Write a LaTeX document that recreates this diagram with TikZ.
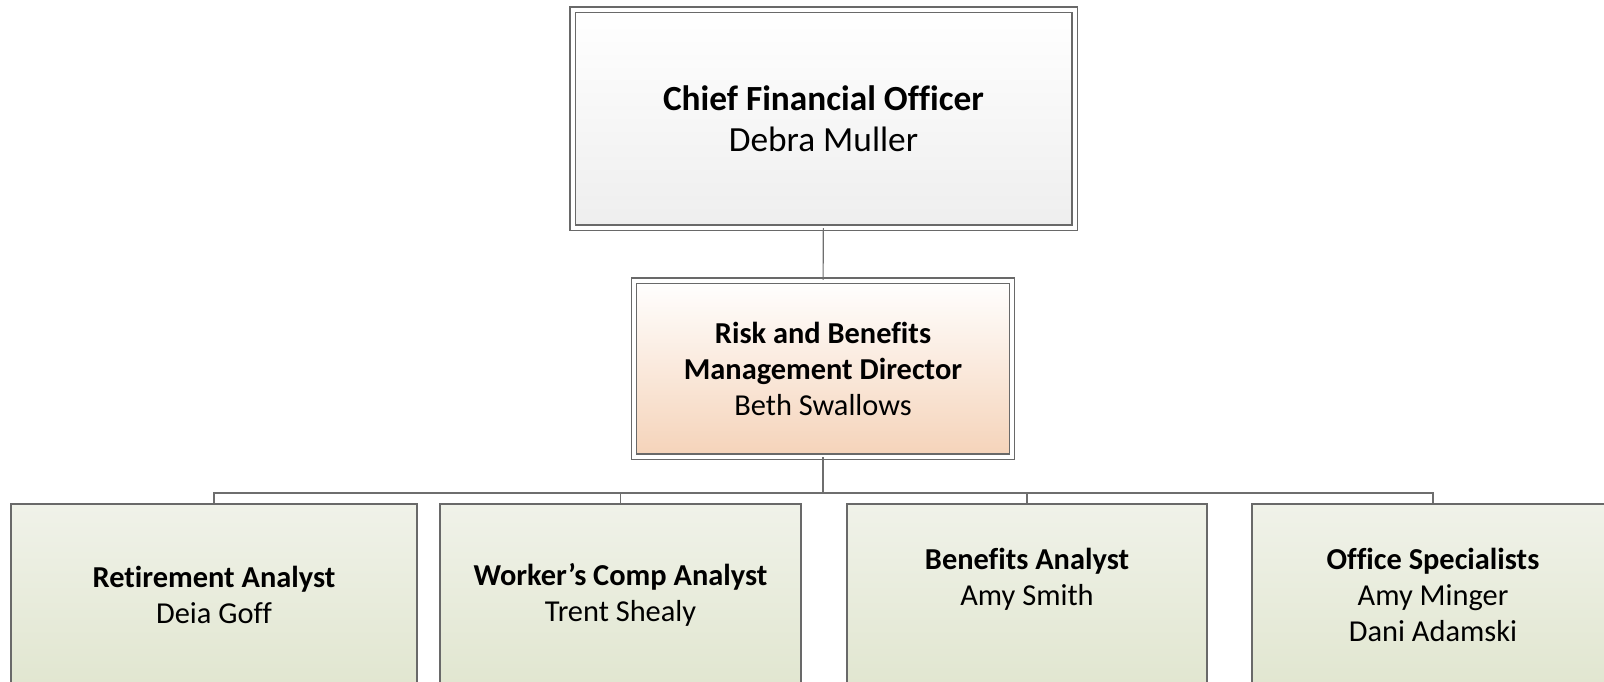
\documentclass[tikz,border=0pt]{standalone}
\usepackage{fontspec}
\setmainfont[Ligatures=NoCommon]{Carlito}
\usepackage{tikz}
\usetikzlibrary{positioning}
\definecolor{edgegray}{RGB}{105,105,105}
\definecolor{linkgray}{RGB}{110,110,110}
\definecolor{peach}{RGB}{245,211,185}
\definecolor{sagetop}{RGB}{240,242,233}
\definecolor{sagebot}{RGB}{225,230,208}
\tikzset{
	box/.style={
		draw=edgegray,
		line width=0.8pt,
		align=center,
		inner sep=0pt,
		font={\fontsize{22.8}{27}\selectfont},
	},
	framed/.append style={
		box,
		double=white,
		double distance=3pt,
	},
	chief/.append style={
		framed,
		top color=white,
		bottom color={rgb,255:red,238;green,238;blue,238},
		font={\fontsize{26.5}{31}\selectfont},
	},
	director/.append style={
		framed,
		top color=white,
		bottom color=peach,
	},
	staff/.append style={
		box,
		top color=sagetop,
		bottom color=sagebot,
		minimum height=182*0.75pt,
	},
	link/.style={
		draw=linkgray,
		line width=0.8pt,
	},
}

\begin{document}
\begin{tikzpicture}[x=0.75pt,y=-0.75pt]
\useasboundingbox (0,0) rectangle (1604,682);

\node(cfo)[chief, minimum width=502*0.75pt, minimum height=218*0.75pt] at (823.5,118.5)
	{\textbf{Chief Financial Officer}\\Debra Muller};
\node(dir)[director, minimum width=378*0.75pt, minimum height=176*0.75pt] at (823,368.5)
	{\textbf{Risk and Benefits}\\\textbf{Management Director}\\Beth Swallows};

\node(ret)[staff, minimum width=406*0.75pt] at (214,595)
	{\textbf{Retirement Analyst}\\Deia Goff};
\node(wc)[staff, minimum width=361*0.75pt] at (620.5,595)
	{\textbf{Worker’s Comp Analyst}\\Trent Shealy};
\node(ben)[staff, minimum width=360*0.75pt, text depth=36*0.75pt] at (1027,595)
	{\textbf{Benefits Analyst}\\Amy Smith};
\node(off)[staff, minimum width=362*0.75pt] at (1433,595)
	{\textbf{Office Specialists}\\Amy Minger\\Dani Adamski};

\coordinate(bus) at (823,493);

\draw[link] (cfo) -- (dir);
\draw[link] (dir) -- (bus);
\draw[link] (bus) -| (ret);
\draw[link] (bus) -| (wc);
\draw[link] (bus) -| (ben);
\draw[link] (bus) -| (off);

\end{tikzpicture}
\end{document}
